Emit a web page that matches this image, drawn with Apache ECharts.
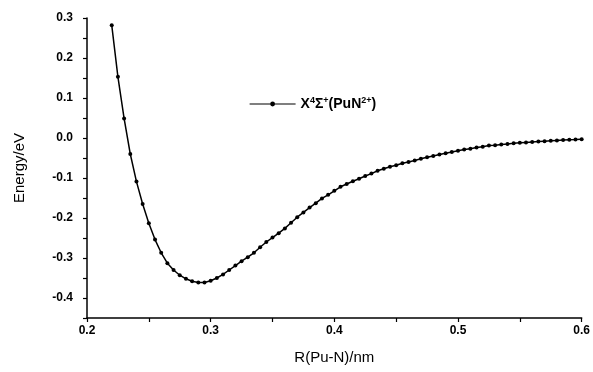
<!DOCTYPE html>
<html>
<head>
<meta charset="utf-8">
<script src="https://cdn.jsdelivr.net/npm/echarts@6/dist/echarts.min.js"></script>
<style>html,body{margin:0;padding:0;background:#fff;}#c{width:593px;height:372px;}</style>
</head>
<body>
<div id="c"></div>
<script>
const seriesName = 'X4Σ+(PuN2+)';
const rValues = [0.220,0.225,0.230,0.235,0.240,0.245,0.250,0.255,0.260,0.265,0.270,0.275,0.280,0.285,0.290,0.295,0.300,0.305,0.310,0.315,0.320,0.325,0.330,0.335,0.340,0.345,0.350,0.355,0.360,0.365,0.370,0.375,0.380,0.385,0.390,0.395,0.400,0.405,0.410,0.415,0.420,0.425,0.430,0.435,0.440,0.445,0.450,0.455,0.460,0.465,0.470,0.475,0.480,0.485,0.490,0.495,0.500,0.505,0.510,0.515,0.520,0.525,0.530,0.535,0.540,0.545,0.550,0.555,0.560,0.565,0.570,0.575,0.580,0.585,0.590,0.595,0.600];
const energyValues = [0.282,0.153,0.049,-0.040,-0.109,-0.165,-0.213,-0.254,-0.287,-0.313,-0.330,-0.343,-0.352,-0.358,-0.361,-0.361,-0.357,-0.350,-0.341,-0.330,-0.319,-0.308,-0.298,-0.287,-0.273,-0.260,-0.249,-0.238,-0.226,-0.212,-0.198,-0.186,-0.174,-0.163,-0.151,-0.142,-0.132,-0.122,-0.115,-0.108,-0.102,-0.095,-0.089,-0.082,-0.077,-0.072,-0.068,-0.063,-0.060,-0.056,-0.052,-0.048,-0.045,-0.041,-0.038,-0.035,-0.032,-0.029,-0.027,-0.024,-0.022,-0.019,-0.018,-0.016,-0.015,-0.013,-0.012,-0.011,-0.010,-0.009,-0.008,-0.007,-0.006,-0.005,-0.0045,-0.004,-0.003];
const xAxisTitle = 'R(Pu-N)/nm';
const yAxisTitle = 'Energy/eV';

const chart = echarts.init(document.getElementById('c'), null, {renderer: 'canvas'});
const data = rValues.map((r, i) => [r, energyValues[i]]);
const fmt = v => {
  const k = Math.round(v * 20);
  if (k % 2 !== 0) return '';
  return (k / 20).toFixed(1);
};
chart.setOption({
  animation: false,
  backgroundColor: '#fff',
  grid: {left: 87, right: 11, top: 18, bottom: 54, containLabel: false},
  legend: {
    left: 244, top: 91,
    itemWidth: 46, itemHeight: 6, itemGap: 5,
    data: [{name: seriesName, itemStyle: {color: '#000'}, lineStyle: {width: 1.2}}],
    formatter: () => 'X{sup|4}Σ{sup|+}(PuN{sup|2+})',
    textStyle: {
      fontFamily: 'Liberation Sans', fontSize: 14, fontWeight: 'bold', color: '#000',
      rich: {sup: {fontSize: 9, fontWeight: 'bold', verticalAlign: 'top', padding: [0, 0, 7, 0], color: '#000'}}
    }
  },
  xAxis: {
    type: 'value', min: 0.2, max: 0.6, interval: 0.05,
    name: xAxisTitle, nameLocation: 'middle', nameGap: 32,
    nameTextStyle: {fontFamily: 'Liberation Sans', fontSize: 15, color: '#000'},
    axisLine: {onZero: false, lineStyle: {color: '#000', width: 1.5}},
    axisTick: {length: 4, lineStyle: {color: '#000', width: 1.2}},
    axisLabel: {formatter: fmt, margin: 7, fontFamily: 'Liberation Sans', fontSize: 12, fontWeight: 'bold', color: '#000', showMaxLabel: true, showMinLabel: true},
    splitLine: {show: false}
  },
  yAxis: {
    type: 'value', min: -0.45, max: 0.3, interval: 0.05,
    name: yAxisTitle, nameLocation: 'middle', nameGap: 60,
    nameTextStyle: {fontFamily: 'Liberation Sans', fontSize: 15, color: '#000'},
    axisLine: {show: true, onZero: false, lineStyle: {color: '#000', width: 1.5}},
    axisTick: {show: true, length: 4, lineStyle: {color: '#000', width: 1.2}},
    axisLabel: {formatter: fmt, margin: 14, fontFamily: 'Liberation Sans', fontSize: 12, fontWeight: 'bold', color: '#000'},
    splitLine: {show: false}
  },
  series: [{
    name: seriesName,
    type: 'line',
    data: data,
    symbol: 'circle', symbolSize: 4,
    itemStyle: {color: '#000'},
    lineStyle: {color: '#000', width: 1.5},
    smooth: false
  }]
});
</script>
</body>
</html>
